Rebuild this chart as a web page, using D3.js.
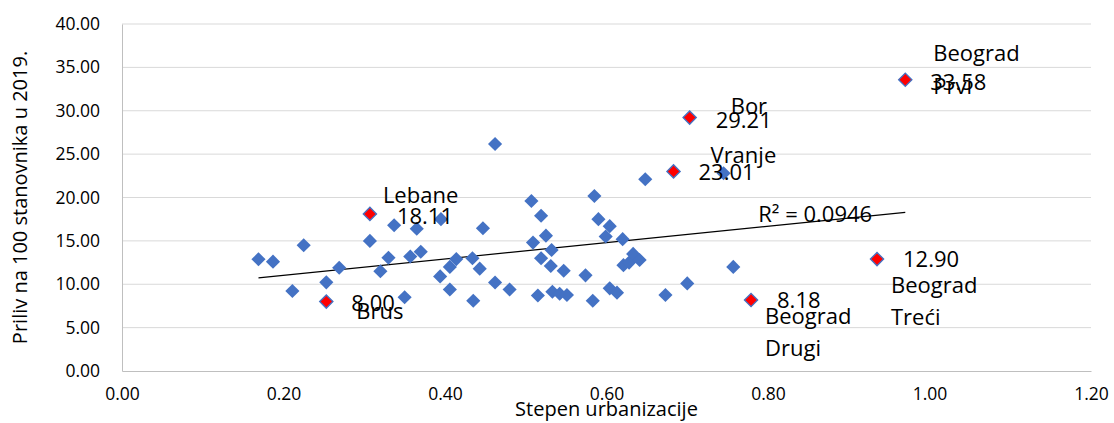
<!DOCTYPE html>
<html>
<head>
<meta charset="utf-8">
<script src="https://cdn.jsdelivr.net/npm/d3@7"></script>
<style>
  html, body { margin: 0; padding: 0; background: #fff; }
  svg { display: block; font-family: "Open Sans", sans-serif; }
</style>
</head>
<body>
<svg id="chart" width="1114" height="423"></svg>
<script>
// Municipalities: degree of urbanisation (x) vs. inflow per 100 inhabitants in 2019 (y)
const urbanX = [0.169, 0.187, 0.211, 0.225, 0.253, 0.269, 0.307, 0.320, 0.330, 0.337,
  0.350, 0.357, 0.365, 0.370, 0.394, 0.395, 0.406, 0.406, 0.414, 0.434,
  0.435, 0.443, 0.447, 0.462, 0.462, 0.480, 0.507, 0.509, 0.515, 0.519,
  0.519, 0.525, 0.531, 0.532, 0.533, 0.542, 0.551, 0.547, 0.574, 0.583,
  0.585, 0.590, 0.599, 0.604, 0.604, 0.613, 0.620, 0.621, 0.628, 0.633,
  0.641, 0.648, 0.673, 0.700, 0.745, 0.757];
const inflowY = [12.88, 12.60, 9.22, 14.49, 10.22, 11.90, 15.00, 11.50, 13.06, 16.80,
  8.50, 13.20, 16.40, 13.75, 10.90, 17.50, 12.00, 9.40, 12.90, 13.00,
  8.10, 11.80, 16.45, 26.17, 10.20, 9.40, 19.60, 14.80, 8.70, 17.90,
  13.00, 15.60, 12.10, 13.95, 9.14, 8.90, 8.76, 11.56, 11.03, 8.10,
  20.17, 17.50, 15.50, 16.70, 9.53, 9.03, 15.20, 12.20, 12.50, 13.50,
  12.80, 22.10, 8.76, 10.10, 22.80, 12.00];

// Highlighted municipalities
const hlNames = ["Beograd\nPrvi", "Bor", "Vranje", "Lebane", "Brus", "Beograd\nDrugi", "Beograd\nTreći"];
const hlX = [0.970, 0.703, 0.683, 0.307, 0.253, 0.779, 0.935];
const hlY = [33.58, 29.21, 23.01, 18.11, 8.00, 8.18, 12.90];

const xTicks = [0, 0.2, 0.4, 0.6, 0.8, 1.0, 1.2];
const yTicks = [0, 5, 10, 15, 20, 25, 30, 35, 40];
const rSquaredText = "R² = 0.0946";
const xTitle = "Stepen urbanizacije";
const yTitle = "Priliv na 100 stanovnika u 2019.";

// Label placement (pixel offsets from the marker): value label, name label
const labelLayout = [
  { vdx: 25, vdy: 10, ndx: 28, ndy: -19, nl: 33 },
  { vdx: 26, vdy: 10, ndx: 41, ndy: -4,  nl: 33 },
  { vdx: 25, vdy: 9,  ndx: 37, ndy: -8,  nl: 33 },
  { vdx: 27, vdy: 10, ndx: 13, ndy: -11, nl: 33 },
  { vdx: 25, vdy: 9,  ndx: 30, ndy: 17,  nl: 33 },
  { vdx: 26, vdy: 8,  ndx: 14, ndy: 24,  nl: 32 },
  { vdx: 26, vdy: 8,  ndx: 14, ndy: 34,  nl: 32 }
];

const W = 1114, H = 423;
const margin = { left: 122, top: 24, right: 23, bottom: 52 };
const svg = d3.select("#chart");

const x = d3.scaleLinear().domain([0, 1.2]).range([margin.left, W - margin.right]);
const y = d3.scaleLinear().domain([0, 40]).range([H - margin.bottom, margin.top]);

// Horizontal gridlines
svg.append("g").selectAll("line").data(yTicks.filter(d => d > 0)).join("line")
  .attr("x1", x(0)).attr("x2", x(1.2))
  .attr("y1", d => y(d)).attr("y2", d => y(d))
  .attr("stroke", "#d9d9d9").attr("stroke-width", 1);

// Axes
const yAxis = d3.axisLeft(y).tickValues(yTicks).tickFormat(d3.format(".2f")).tickSize(0).tickPadding(22);
const gy = svg.append("g").attr("transform", `translate(${margin.left},0)`).call(yAxis);
gy.select(".domain").attr("stroke", "#bfbfbf");
gy.selectAll("text").attr("font-size", 17.5).attr("fill", "#000").attr("font-family", "Open Sans");

const xAxis = d3.axisBottom(x).tickValues(xTicks).tickFormat(d3.format(".2f")).tickSize(0).tickPadding(17);
const gx = svg.append("g").attr("transform", `translate(0,${H - margin.bottom})`).call(xAxis);
gx.select(".domain").attr("stroke", "#bfbfbf");
gx.selectAll("text").attr("font-size", 17.5).attr("fill", "#000").attr("font-family", "Open Sans");

// Linear trendline (least squares over all points)
const allX = urbanX.concat(hlX), allY = inflowY.concat(hlY);
const n = allX.length;
const mx = d3.mean(allX), my = d3.mean(allY);
let sxy = 0, sxx = 0;
for (let i = 0; i < n; i++) { sxy += (allX[i] - mx) * (allY[i] - my); sxx += (allX[i] - mx) ** 2; }
const slope = sxy / sxx, intercept = my - slope * mx;
const [x0, x1] = d3.extent(allX);
svg.append("line")
  .attr("x1", x(x0)).attr("y1", y(intercept + slope * x0))
  .attr("x2", x(x1)).attr("y2", y(intercept + slope * x1))
  .attr("stroke", "#000").attr("stroke-width", 1.2);

// Diamonds
const diamond = d3.symbol().type(d3.symbolSquare).size(100);
svg.append("g").selectAll("path").data(urbanX.map((v, i) => [v, inflowY[i]])).join("path")
  .attr("d", diamond)
  .attr("transform", d => `translate(${x(d[0])},${y(d[1])}) rotate(45)`)
  .attr("fill", "#4472c4");

const hl = hlX.map((v, i) => ({ x: v, y: hlY[i], name: hlNames[i], L: labelLayout[i] }));
svg.append("g").selectAll("path").data(hl).join("path")
  .attr("d", d3.symbol().type(d3.symbolSquare).size(88))
  .attr("transform", d => `translate(${x(d.x)},${y(d.y)}) rotate(45)`)
  .attr("fill", "#ff0000").attr("stroke", "#4472c4").attr("stroke-width", 1.3);

// Data labels
const lbl = svg.append("g").attr("font-size", 22).attr("fill", "#000");
lbl.selectAll("text.val").data(hl).join("text").attr("class", "val")
  .attr("x", d => x(d.x) + d.L.vdx).attr("y", d => y(d.y) + d.L.vdy)
  .text(d => d3.format(".2f")(d.y));
hl.forEach(d => {
  const t = lbl.append("text").attr("x", x(d.x) + d.L.ndx).attr("y", y(d.y) + d.L.ndy);
  d.name.split("\n").forEach((line, k) => {
    t.append("tspan").attr("x", x(d.x) + d.L.ndx).attr("dy", k === 0 ? 0 : d.L.nl).text(line);
  });
});

// R² label near the end of the trendline
svg.append("text")
  .attr("x", x(x1) - 147).attr("y", y(intercept + slope * x1) + 10)
  .attr("font-size", 22).text(rSquaredText);

// Axis titles
svg.append("text").attr("x", (x(0) + x(1.2)) / 2).attr("y", 416)
  .attr("text-anchor", "middle").attr("font-size", 20).text(xTitle);
svg.append("text").attr("transform", `translate(27,${(y(0) + y(40)) / 2}) rotate(-90)`)
  .attr("text-anchor", "middle").attr("font-size", 20).text(yTitle);
</script>
</body>
</html>
